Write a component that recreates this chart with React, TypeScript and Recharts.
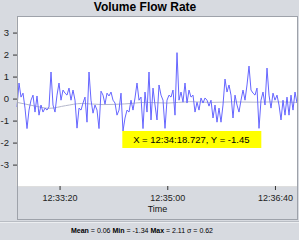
import { LineChart, Line, XAxis, YAxis, CartesianGrid, ReferenceDot } from 'recharts'

// seconds since midnight, 12:32:40 .. 12:37:00
const START = 45160
const SPAN = 260
const xTicks = [45200, 45300, 45400]
const yTicks = [-3, -2, -1, 0, 1, 2, 3]

const flowValues = [
  -0.36, 0.73, 0.09, 0.27, -0.41, -1.34, -0.5, -0.05, 0.18, -0.59, 0.14, -0.73, -0.27, -0.59, -0.41,
  -0.5, -0.36, 1.23, -0.27, -0.59, 0.18, 0.73, -0.05, 0.41, 0.27, 0.18, 0.5, -0.05, 0.41, -0.05,
  -1.32, -0.41, -0.5, -0.18, 0.09, -1.05, 1.23, -0.05, -0.64, -0.27, -0.5, -1.34, 0.36, 0.18, -0.23,
  0.27, 0.14, 0.32, -0.05, -0.18, -0.73, -0.5, 0.27, -1.45, -0.86, -0.5, -0.59, -0.05, -0.5, 0.05,
  0.73, -0.05, 0.09, -1.34, 0.32, -0.59, 1.23, -0.95, 0.5, -0.27, -0.95, 0.64, 0.18, -0.05, -1.33,
  -0.05, 0.18, 0.09, 0.41, -0.73, 2.11, -0.05, 0.32, -0.14, 0.73, -0.18, 0.41, 0.09, 0.18, -0.59,
  -0.14, -0.5, 0.05, -0.18, 0.05, -0.05, -0.32, -0.05, -0.86, -0.27, -1.05, -0.41, -1.05, -0.27, 0.91,
  0.32, 0.64, 0.18, -0.86, 0.18, -0.27, -0.59, -0.05, 0.41, -0.05, 0.64, 1.5, 0.41, 0.27, 0.18,
  0.5, -1.33, -0.05, 0.32, -0.27, 1.41, 0.18, -0.41, 0.27, -0.05, 0.18, -0.27, -0.95, -0.05, -0.73,
  0.09, -0.73, 0.18, -0.5, 0.32, -0.18,
]

// smoothed trend (offset in seconds from START)
const trendOffsets = [0, 15, 30, 45, 60, 80, 100, 120, 140, 160, 180, 200, 220, 240, 260]
const trendValues = [-0.15, -0.3, -0.42, -0.3, -0.2, -0.25, -0.22, -0.15, -0.18, -0.12, -0.15, -0.13, -0.14, -0.13, -0.15]

const markTime = 45258.727
const markValue = -1.45

const stats = { mean: '0.06', min: '-1.34', max: '2.11', sigma: '0.62' }

const step = SPAN / (flowValues.length - 1)
const chartData = flowValues.map((v, i) => ({ t: START + i * step, v }))
const trendData = trendOffsets.map((o, i) => ({ t: START + o, v: trendValues[i] }))

const pad = (n: number) => String(Math.floor(n)).padStart(2, '0')
const fmtTime = (s: number) => `${pad(s / 3600)}:${pad((s % 3600) / 60)}:${pad(s % 60)}`
const fmtMs = (s: number) => `${fmtTime(s)}.${String(Math.round((s % 1) * 1000)).padStart(3, '0')}`

const FONT = '"Liberation Sans", Arial, sans-serif'
const BG = '#d7dae0'

function MarkLabel(props: any) {
  const { cx, cy } = props
  return (
    <g>
      <rect x={cx - 1} y={cy} width={139} height={17} fill="#ffff00" />
      <text x={cx + 68} y={cy + 12} textAnchor="middle" fontSize={9.5} fontFamily={FONT} fill="#000">
        {`X = ${fmtMs(markTime)}, Y = ${markValue.toFixed(2)}`}
      </text>
    </g>
  )
}

export default function App() {
  return (
    <div style={{ position: 'absolute', left: 0, top: 0, width: 299, height: 240, background: BG, overflow: 'hidden', fontFamily: FONT }}>
      <div style={{ position: 'absolute', left: 0, top: 0, width: 290, textAlign: 'center', fontSize: 12, fontWeight: 'bold', lineHeight: '15px', color: '#000' }}>
        Volume Flow Rate
      </div>
      <div style={{ position: 'absolute', left: 0, top: 0 }}>
        <LineChart width={299} height={240} data={chartData} margin={{ top: 17, right: 2, left: 0, bottom: 0 }}>
          <rect x={17} y={17} width={280} height={169} fill="#fff" />
          <CartesianGrid stroke="#dedede" strokeWidth={2} ticks={yTicks} />
          <XAxis
            dataKey="t"
            type="number"
            domain={[START, START + SPAN]}
            ticks={xTicks}
            tickFormatter={fmtTime}
            axisLine={false}
            tickLine={{ stroke: '#333' }}
            tickSize={4}
            tickMargin={5}
            height={54}
            tick={{ fill: '#222', fontSize: 9, fontFamily: FONT }}
          />
          <YAxis
            type="number"
            domain={[-3.95, 3.73]}
            ticks={yTicks}
            axisLine={false}
            tickLine={{ stroke: '#333' }}
            tickSize={4}
            tickMargin={4}
            width={17}
            tick={{ fill: '#222', fontSize: 9.5, fontFamily: FONT }}
          />
          <Line data={trendData} dataKey="v" type="monotone" stroke="#b4b7cc" strokeWidth={1} dot={false} isAnimationActive={false} />
          <Line dataKey="v" type="linear" stroke="#6666ff" strokeWidth={1} dot={false} isAnimationActive={false} />
          <ReferenceDot x={markTime} y={markValue} r={0} shape={MarkLabel} ifOverflow="visible" />
        </LineChart>
      </div>
      <div style={{ position: 'absolute', left: 17, top: 16, width: 279, height: 202, border: '1px solid #9ea2aa', pointerEvents: 'none' }} />
      <div style={{ position: 'absolute', left: 17, top: 204, width: 281, textAlign: 'center', fontSize: 9, color: '#111' }}>Time</div>
      <div style={{ position: 'absolute', left: 0, top: 221, width: 299, height: 0, borderTop: '1px solid #b9bdc4', borderBottom: '1px solid #eceef1' }} />
      <div style={{ position: 'absolute', left: 0, top: 226, width: 284, textAlign: 'center', fontSize: 7, lineHeight: '9px', color: '#000' }}>
        <b>Mean</b> = {stats.mean} <b>Min</b> = {stats.min} <b>Max</b> = {stats.max} σ = {stats.sigma}
      </div>
    </div>
  )
}
